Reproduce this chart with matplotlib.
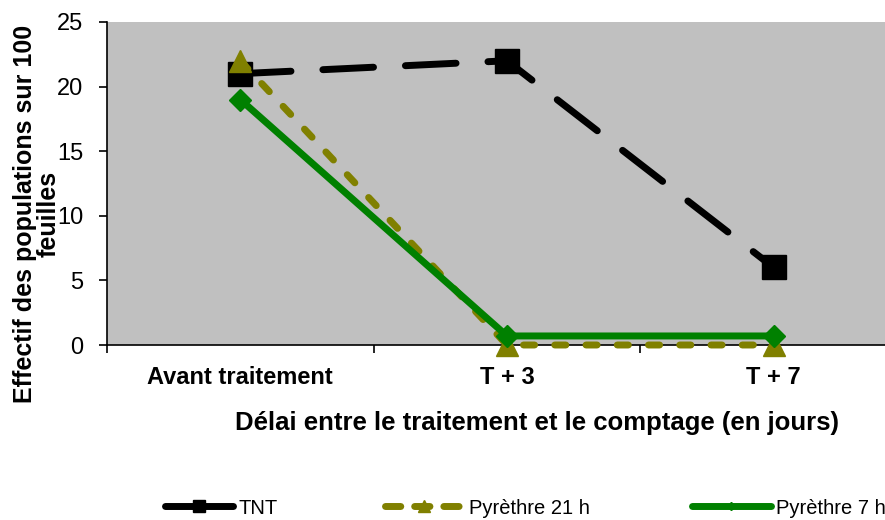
import matplotlib
matplotlib.use("Agg")
import matplotlib.pyplot as plt
from matplotlib.lines import Line2D

plt.rcParams['font.family'] = ['Liberation Sans', 'DejaVu Sans']

categories = ["Avant traitement", "T + 3", "T + 7"]
tnt = [21, 22, 6]
pyr21 = [22, 0, 0]
pyr7 = [19, 0.7, 0.7]
yticks = [0, 5, 10, 15, 20, 25]

fig = plt.figure(figsize=(8.85, 5.2), dpi=100)
ax = fig.add_axes([107 / 885, 175 / 520, 800 / 885, 323 / 520])
ax.set_facecolor("#c0c0c0")

x = range(len(categories))
ax.plot(x, tnt, color="black", lw=5, dashes=(7.3, 4.6), dash_capstyle="round",
        marker="s", ms=17, mfc="black", mec="black", clip_on=False, zorder=3)
ax.plot(x, pyr21, color="#808000", lw=5, dashes=(1.6, 2.9), dash_capstyle="round",
        marker="^", ms=16, mfc="#808000", mec="#808000", clip_on=False, zorder=4)
ax.plot(x, pyr7, color="#008000", lw=5, solid_capstyle="round",
        marker="D", ms=11, mfc="#008000", mec="#008000", clip_on=False, zorder=5)

ax.set_xlim(-0.5, 2.5)
ax.set_ylim(0, 25)
ax.set_yticks(yticks)
ax.tick_params(axis="y", direction="out", length=6, width=1.2, pad=11, labelsize=17)
ax.set_xticks([-0.5, 0.5, 1.5, 2.5])
ax.set_xticklabels([])
ax.tick_params(axis="x", direction="out", length=6, width=1.2)
ax.set_xticks(list(x), minor=True)
ax.set_xticklabels(categories, minor=True, fontsize=17, fontweight="bold")
ax.tick_params(axis="x", which="minor", length=0, pad=15)
for s in ["top", "right"]:
    ax.spines[s].set_visible(False)
for s in ["left", "bottom"]:
    ax.spines[s].set_linewidth(1.2)

fig.text(537 / 885, 1 - 423 / 520, "Délai entre le traitement et le comptage (en jours)",
         ha="center", va="center", fontsize=18.5, fontweight="bold")
fig.text(37 / 885, 1 - 214 / 520, "Effectif des populations sur 100\nfeuilles",
         ha="center", va="center", rotation=90, fontsize=18, fontweight="bold",
         linespacing=1.0)

# legends
h1 = Line2D([], [], color="black", lw=5, solid_capstyle="round", marker="s", ms=8)
h2 = Line2D([], [], color="#808000", lw=5, dashes=(2.2, 2.0), dash_capstyle="round",
            marker="^", ms=8)
h3 = Line2D([], [], color="#008000", lw=5, solid_capstyle="round", marker="D", ms=4)
for h, lab, xpos, hl in [(h1, "TNT", 165, 3.4), (h2, "Pyrèthre 21 h", 385, 3.9),
                         (h3, "Pyrèthre 7 h", 692, 3.9)]:
    fig.legend([h], [lab], loc="center left", bbox_to_anchor=(xpos / 885, 1 - 508 / 520),
               frameon=False, fontsize=14.5, handlelength=hl, handletextpad=0.25,
               borderpad=0, borderaxespad=0)

fig.savefig("out.png", dpi=100)
